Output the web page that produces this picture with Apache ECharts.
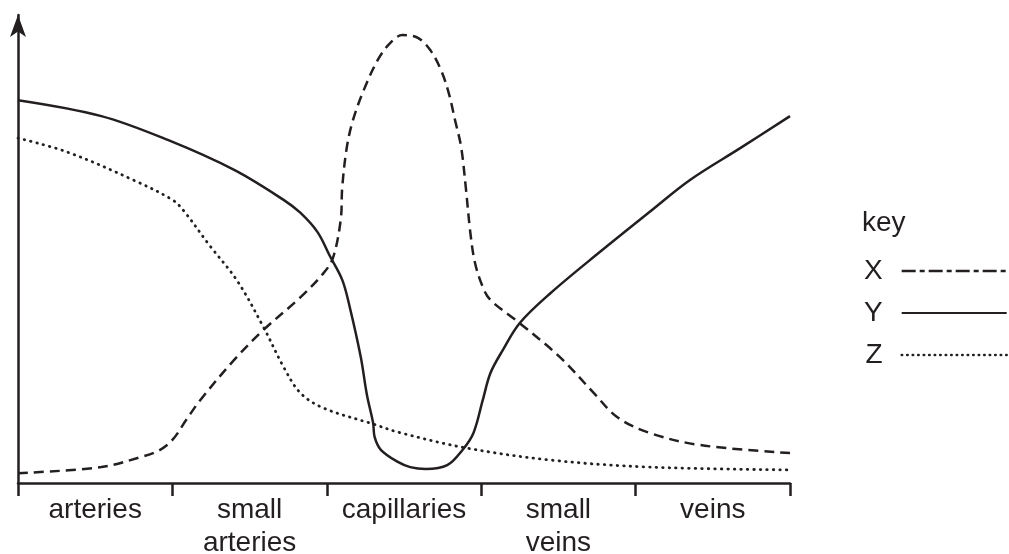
<!DOCTYPE html>
<html>
<head>
<meta charset="utf-8">
<script src="https://cdn.jsdelivr.net/npm/echarts@6/dist/echarts.min.js"></script>
<style>
html,body{margin:0;padding:0;background:#fff;}
#chart{width:1009px;height:554px;}
</style>
</head>
<body>
<div id="chart"></div>
<script>
// Vessel categories (x-axis bands)
const categories = ['arteries', 'small\narteries', 'capillaries', 'small\nveins', 'veins'];
const seriesNames = ['X', 'Y', 'Z'];
// Curves as [position along vessels (0..5 bands), relative value]
const xCurve = [
  [0, 2.1], [0.54, 3.4], [0.80, 5.6], [0.91, 6.9], [1.00, 9.2], [1.09, 13.5], [1.18, 17.7],
  [1.40, 26.3], [1.59, 32.7], [1.83, 39.7], [1.98, 44.9], [2.04, 48.1],
  [2.09, 56.2], [2.10, 63.2], [2.13, 71.8], [2.17, 77.6], [2.24, 84.0], [2.33, 90.4],
  [2.41, 94.0], [2.49, 95.7], [2.59, 95.1], [2.67, 92.5], [2.74, 88.2], [2.79, 83.3],
  [2.83, 77.6], [2.87, 71.8], [2.90, 63.2], [2.93, 53.4], [2.96, 47.0], [3.01, 41.9],
  [3.06, 39.1], [3.24, 34.4], [3.51, 26.9], [3.73, 19.2], [3.88, 14.1],
  [4.09, 10.7], [4.42, 8.1], [5.0, 6.4]
];
const yCurve = [
  [0, 81.8], [0.54, 78.4], [0.97, 73.3], [1.40, 66.9], [1.72, 60.5], [1.83, 57.7],
  [1.94, 53.6], [2.02, 48.5], [2.10, 43.4], [2.15, 37.4], [2.22, 26.9], [2.26, 18.8],
  [2.30, 12.8], [2.31, 9.8], [2.35, 7.1], [2.46, 4.5], [2.54, 3.4], [2.64, 3.0],
  [2.78, 3.8], [2.88, 7.1],
  [2.95, 10.7], [3.01, 17.7], [3.06, 23.5], [3.14, 28.4], [3.25, 34.2], [3.45, 40.6],
  [3.77, 49.4], [4.09, 57.9], [4.35, 64.7], [4.68, 71.6], [5.0, 78.4]
];
const zCurve = [
  [0, 73.7], [0.32, 70.7], [0.75, 64.7], [1.00, 60.5], [1.07, 58.3], [1.24, 50.8],
  [1.42, 43.2], [1.59, 33.3], [1.72, 24.8], [1.83, 19.2], [1.98, 16.0], [2.30, 12.6],
  [2.48, 10.7], [2.90, 7.5], [3.45, 4.9], [4.09, 3.4], [5.0, 2.8]
];

const ink = '#231f20';
const font = 'Liberation Sans, Arial, Helvetica, sans-serif';
const hiddenSymbol = {opacity: 0, color: 'transparent', borderWidth: 0};

const chart = echarts.init(document.getElementById('chart'), null, {renderer: 'canvas'});
chart.setOption({
  backgroundColor: '#fff',
  animation: false,
  title: {
    text: 'key',
    left: 862,
    top: 209,
    padding: 0,
    textStyle: {fontSize: 28, fontWeight: 'normal', color: ink, fontFamily: font}
  },
  legend: {
    orient: 'vertical',
    left: 864,
    top: 257,
    align: 'right',
    itemWidth: 105,
    itemHeight: 26,
    itemGap: 14,
    padding: 0,
    itemStyle: hiddenSymbol,
    textStyle: {fontSize: 28, color: ink, fontFamily: font, padding: [0, 14, 0, 0]},
    data: [
      {name: seriesNames[0], itemStyle: hiddenSymbol, lineStyle: {type: [14, 4, 5, 4], width: 2.5, color: ink}},
      {name: seriesNames[1], itemStyle: hiddenSymbol},
      {name: seriesNames[2], itemStyle: hiddenSymbol, lineStyle: {type: [0.5, 5], width: 2.5, cap: 'round', color: ink}}
    ]
  },
  grid: {left: 18, right: 219, top: 15, bottom: 71, containLabel: false, outerBoundsMode: 'none'},
  xAxis: [
    {type: 'value', min: 0, max: 5, show: false},
    {
      type: 'category',
      data: categories,
      position: 'bottom',
      boundaryGap: true,
      axisLine: {show: true, lineStyle: {color: ink, width: 2.5}},
      axisTick: {show: true, interval: 0, length: 13, lineStyle: {color: ink, width: 2.5}},
      axisLabel: {interval: 0, fontSize: 28, lineHeight: 33, margin: 11, color: ink, fontFamily: font},
      splitLine: {show: false}
    }
  ],
  yAxis: {
    type: 'value',
    min: 0,
    max: 100,
    axisLine: {show: true, symbol: ['none', 'arrow'], symbolSize: [12, 22], lineStyle: {color: ink, width: 2.5}},
    axisTick: {show: false},
    axisLabel: {show: false},
    splitLine: {show: false}
  },
  series: [
    {
      name: seriesNames[0], type: 'line', xAxisIndex: 0, data: xCurve, smooth: 0.35,
      symbol: 'none', showSymbol: false,
      lineStyle: {color: ink, width: 2.5, type: [10, 6]},
      itemStyle: {color: ink}
    },
    {
      name: seriesNames[1], type: 'line', xAxisIndex: 0, data: yCurve, smooth: 0.35,
      symbol: 'none', showSymbol: false,
      lineStyle: {color: ink, width: 2.5, type: 'solid'},
      itemStyle: {color: ink}
    },
    {
      name: seriesNames[2], type: 'line', xAxisIndex: 0, data: zCurve, smooth: 0.35,
      symbol: 'none', showSymbol: false,
      lineStyle: {color: ink, width: 2.8, type: [0.5, 6], cap: 'round'},
      itemStyle: {color: ink}
    }
  ]
});
</script>
</body>
</html>
